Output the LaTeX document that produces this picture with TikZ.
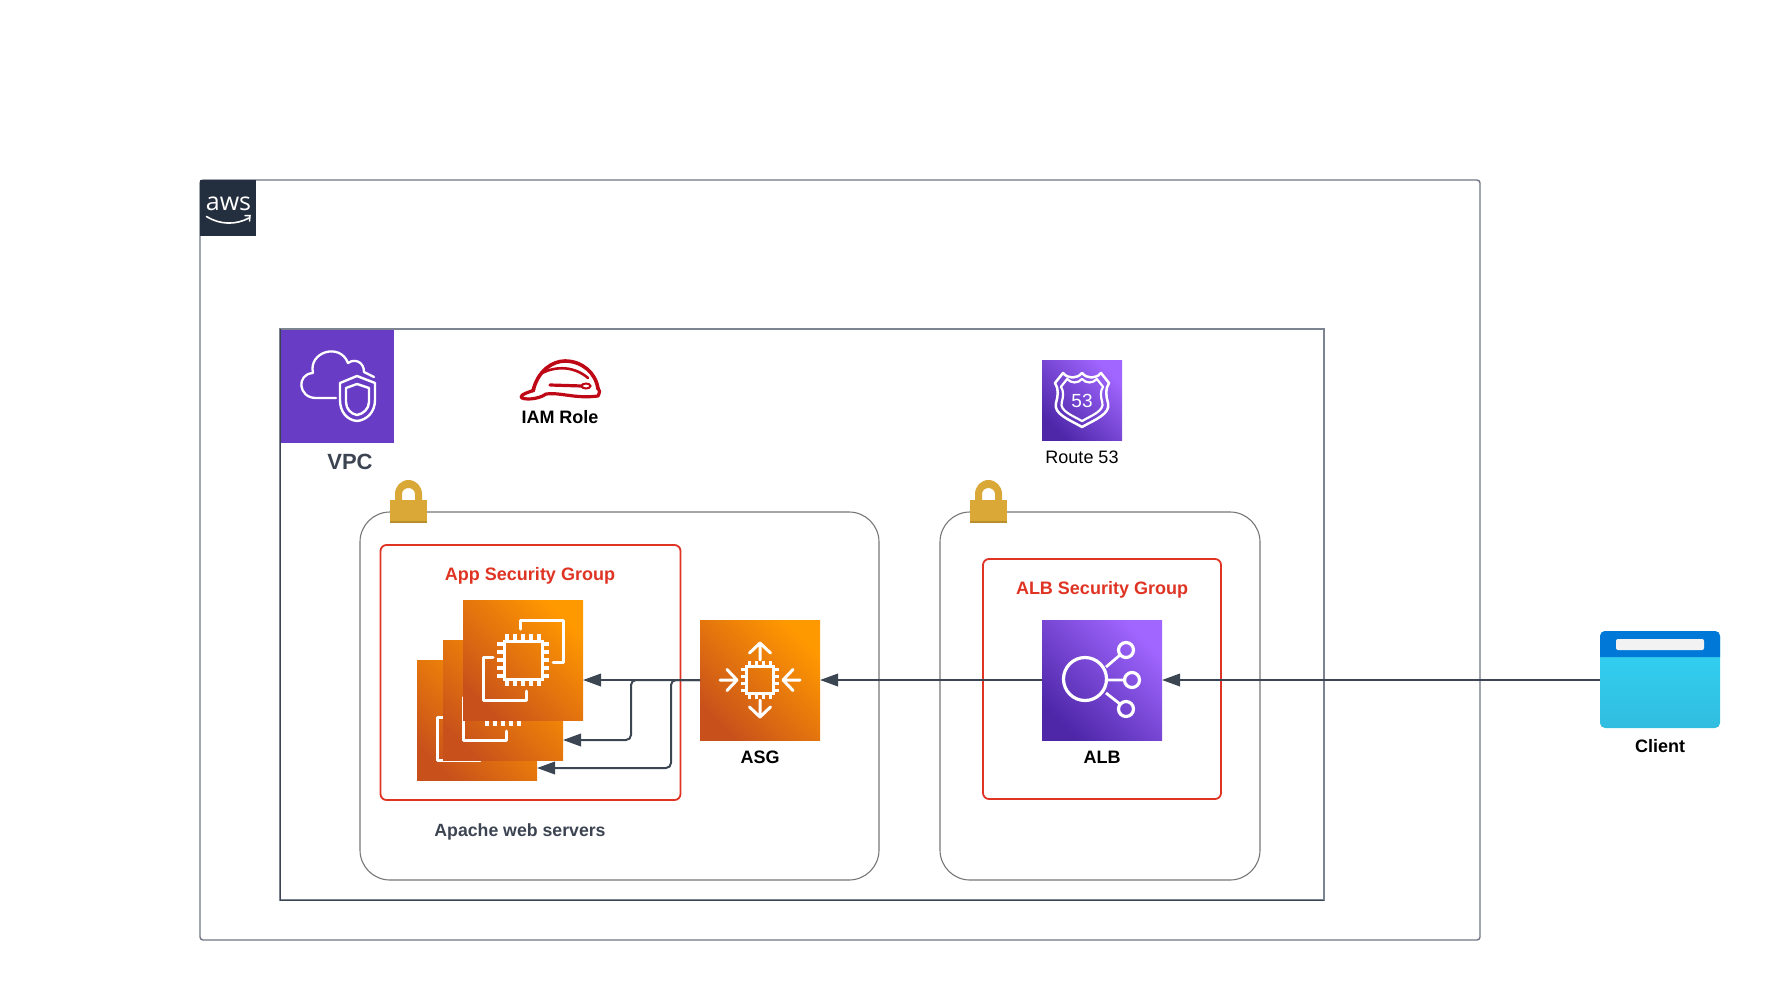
\documentclass[tikz,border=0pt]{standalone}
\usepackage{fontspec}
\setmainfont{Liberation Sans}
\newfontfamily\logofont{Open Sans}
\usetikzlibrary{arrows.meta}
\definecolor{framegrey}{HTML}{6F7785}
\definecolor{vpcgrey}{HTML}{7C8491}
\definecolor{azgrey}{HTML}{777777}
\definecolor{sgred}{HTML}{DF3323}
\definecolor{inkdark}{HTML}{3C4452}
\definecolor{linkink}{HTML}{3C4652}
\definecolor{awsnavy}{HTML}{232F3E}
\definecolor{vpcpurple}{HTML}{693CC5}
\definecolor{orangedark}{HTML}{C8511B}
\definecolor{orangelight}{HTML}{FF9900}
\definecolor{purpledark}{HTML}{4D27A8}
\definecolor{purplelight}{HTML}{A166FF}
\definecolor{lockgold}{HTML}{D9A836}
\definecolor{lockedge}{HTML}{B98F2C}
\definecolor{hatred}{HTML}{BF0816}
\definecolor{clientblue}{HTML}{0078D7}
\definecolor{clienttop}{HTML}{32D4F5}
\definecolor{clientlow}{HTML}{31BDE0}
\definecolor{barwhite}{HTML}{F2F2F2}
\newcommand{\fs}[1]{\fontsize{#1}{#1}\selectfont}
\newcommand{\shieldpath}{(-19,-27) .. controls (-14,-21) and (-5,-21) .. (0,-27) .. controls (5,-21) and (14,-21) .. (19,-27) -- (27,-17) .. controls (23,-11) and (24,-4) .. (26,3) .. controls (29,14) and (12,20) .. (0,27) .. controls (-12,20) and (-29,14) .. (-26,3) .. controls (-24,-4) and (-23,-11) .. (-27,-17) -- cycle}
\tikzset{
  box/.style={inner sep=0pt,outer sep=0pt},
  frame/.style={box,draw=framegrey,line width=1.4pt,rounded corners=3pt},
  vpcframe/.style={box,draw=vpcgrey,line width=1.1pt},
  vpcedge/.style={draw=inkdark,line width=.8pt},
  azbox/.style={box,draw=azgrey,line width=1.1pt,rounded corners=30pt,minimum width=#1,minimum height=368pt},
  sgbox/.style={box,draw=sgred,line width=1.8pt,rounded corners=6pt},
  tile/.style={box,minimum width=120pt,minimum height=120pt},
  orangetile/.style={tile,left color=orangelight,right color=orangedark,shading angle=-45},
  purpletile/.style={tile,left color=purplelight,right color=purpledark,shading angle=-45},
  lbl/.style={inner sep=0pt,font=\bfseries\fs{18}},
  sglbl/.style={lbl,text=sgred},
  link/.style={draw=linkink,line width=2pt,-{Triangle[length=18pt,width=12.5pt]},rounded corners=5pt},
  icon/.style={draw=white,line width=3pt,line cap=round,line join=round},
  pics/chip/.style n args={3}{code={
    \draw[white,line width=3pt] (-#1,-#1) rectangle (#1,#1);
    \foreach \p in {#3}{
      \draw[white,line width=3.5pt] (\p,-#1) -- (\p,-#1-#2);
      \draw[white,line width=3.5pt] (\p,#1) -- (\p,#1+#2);
      \draw[white,line width=3.5pt] (-#1,\p) -- (-#1-#2,\p);
      \draw[white,line width=3.5pt] (#1,\p) -- (#1+#2,\p);
    }
  }},
  pics/ecglyph/.style={code={
    \pic at (0,0) {chip={19}{7}{-16,-8,0,8,16}};
    \draw[icon] (-3,-31) -- (-3,-40) -- (40,-40) -- (40,2) -- (30,2);
    \draw[icon] (-30,-3) -- (-40,-3) -- (-40,40) -- (3,40) -- (3,31);
  }},
  pics/padlock/.style={code={
    \fill[lockgold,even odd rule] (5,20) -- (5,14) arc[start angle=180,end angle=360,x radius=13.5,y radius=14] -- (32,20) -- cycle
      (12,20) -- (12,14) arc[start angle=180,end angle=360,x radius=6.5,y radius=6] -- (25,20) -- cycle;
    \fill[lockgold] (0,20) rectangle (37,41);
    \fill[lockedge] (0,41) rectangle (37,42.5);
  }}
}
\begin{document}
\begin{tikzpicture}[x=1pt,y=-1pt]
\useasboundingbox (0,0) rectangle (1790,980);

% frames
\node[frame,minimum width=1280pt,minimum height=760pt] (awsframe) at (840,560) {};
\node[box,fill=awsnavy,minimum width=56pt,minimum height=56pt] (awslogo) at (228,208) {};
\node[inner sep=0pt,text=white,font=\logofont\fs{25}] (awstext) at (228.5,203.5) {aws};
\draw[white,line width=1.6pt,line cap=round] (206.5,216.5) .. controls (220,225) and (236,225) .. (249,218);
\draw[white,line width=1.5pt,line cap=round] (245,215.5) -- (250,215.5) -- (249.5,221);

\node[vpcframe,minimum width=1044pt,minimum height=571pt] (vpcframe) at (802,614.5) {};
\draw[vpcedge] (vpcframe.north west) -- (vpcframe.south west) -- (vpcframe.south east);
\node[box,fill=vpcpurple,minimum width=113pt,minimum height=113pt] (vpc) at (337.5,386) {};
\draw[white,line width=2.3pt,line cap=round,line join=round]
  (336,398) -- (316,398) .. controls (298,398) and (296,374) .. (313,373)
  .. controls (308,352) and (340,342) .. (348,363)
  .. controls (355,358) and (364,362) .. (364,372) -- (374,377);
\draw[white,line width=2.4pt,line join=round]
  (357,376) -- (340,383) -- (340,400) .. controls (340,412) and (347,420) .. (357,421)
  .. controls (367,420) and (375,412) .. (375,400) -- (375,383) -- cycle;
\draw[white,line width=2.4pt,line join=round]
  (357,384) -- (346,388) -- (346,402) .. controls (346,409) and (351,414) .. (357,415)
  .. controls (363,414) and (369,409) .. (369,402) -- (369,388) -- cycle;
\node[lbl,text=inkdark,font=\bfseries\fs{22}] (vpclabel) at (350,462) {VPC};

% IAM role hat
\draw[hatred,line width=3.6pt,line cap=round,line join=round]
  (533,391) .. controls (538,370) and (553,361) .. (565,361)
  .. controls (582,361) and (596,373) .. (598,389);
\draw[hatred,line width=2.6pt,line cap=round]
  (542,373) .. controls (556,366) and (574,366) .. (588,378);
\draw[hatred,line width=3.2pt,line cap=round,line join=round]
  (534,390) .. controls (530,392) and (521,394) .. (521,397)
  .. controls (522,400) and (538,400) .. (546,394)
  .. controls (560,392) and (575,399) .. (598,396) .. controls (600,392) and (600,390) .. (598,388)
  (550,385) -- (582,386);
\draw[hatred,line width=2pt] (586,386) ellipse[x radius=4.5,y radius=2.5];
\node[lbl] (iamlabel) at (560,417) {IAM Role};

% Route 53
\node[tile,minimum width=80pt,minimum height=80pt,left color=purplelight,right color=purpledark,shading angle=-45] (route) at (1082,400) {};
\begin{scope}[shift={(1082,400)}]
  \draw[white,line width=2.5pt,line join=round] \shieldpath;
  \begin{scope}[scale=.78]
    \draw[white,line width=2.2pt,line join=round] \shieldpath;
  \end{scope}
\end{scope}
\node[inner sep=0pt,text=white,font=\fs{19}] (routefive) at (1082,401) {53};
\node[inner sep=0pt,font=\fs{18}] (routelabel) at (1082,457) {Route 53};

% AZ boxes
\node[azbox=519pt] (azleft) at (619.5,696) {};
\node[azbox=320pt] (azright) at (1100,696) {};
\pic at (390,480) {padlock};
\pic at (970,480) {padlock};

% security groups
\node[sgbox,minimum width=300pt,minimum height=255pt] (sgapp) at (530.5,672.5) {};
\node[sgbox,minimum width=238pt,minimum height=240pt] (sgalb) at (1102,679) {};
\node[sglbl] (sgapplabel) at (530,576) {App Security Group};
\node[sglbl] (sgalblabel) at (1102,590) {ALB Security Group};

% EC2 stack
\node[orangetile] (ecc) at (477,720) {};
\pic at (477,720) {ecglyph};
\node[orangetile] (ecb) at (503,700) {};
\pic at (503,700) {ecglyph};
\node[orangetile] (eca) at (523,660) {};
\pic at (523,660) {ecglyph};
\node[lbl,text=inkdark,font=\bfseries\fs{17.7}] (apache) at (520,832) {Apache web servers};

% ASG
\node[orangetile] (asg) at (760,680) {};
\pic at (760,680) {chip={13.5}{5.5}{-10.5,-3.5,3.5,10.5}};
\draw[icon] (760,660) -- (760,643) (749.5,653) -- (760,643) -- (770.5,653);
\draw[icon] (760,700) -- (760,717) (749.5,707) -- (760,717) -- (770.5,707);
\draw[icon] (720,680) -- (737,680) (727,669.5) -- (737,680) -- (727,690.5);
\draw[icon] (800,680) -- (783,680) (793,669.5) -- (783,680) -- (793,690.5);
\node[lbl] (asglabel) at (760,757) {ASG};

% ALB
\node[purpletile] (alb) at (1102,680) {};
\draw[white,line width=3.2pt] (1085,679) circle[radius=21.5];
\draw[white,line width=3.2pt] (1126,650) circle[radius=7.5];
\draw[white,line width=3.2pt] (1132,680) circle[radius=7.5];
\draw[white,line width=3.2pt] (1126,709) circle[radius=7.5];
\draw[white,line width=2.8pt] (1106,667) -- (1120,655) (1108,680) -- (1124,680) (1106,693) -- (1120,704);
\node[lbl] (alblabel) at (1102,757) {ALB};

% Client
\node[box,minimum width=120pt,minimum height=97pt,rounded corners=5pt,top color=clienttop,bottom color=clientlow,shading angle=0] (client) at (1660,679.5) {};
\fill[clientblue] (1600,657) [rounded corners=5pt] -- (1600,631) -- (1720,631) [sharp corners] -- (1720,657) -- cycle;
\node[box,fill=barwhite,rounded corners=2pt,minimum width=88pt,minimum height=11pt] (clientbar) at (1660,644.5) {};
\node[lbl] (clientlabel) at (1660,746) {Client};

% connectors
\coordinate (ecbport) at (ecb.east |- 0,740);
\coordinate (eccport) at (ecc.east |- 0,768);
\coordinate (busb) at (631,680);
\coordinate (busc) at (671,680);
\draw[link] (client.west |- alb.east) -- (alb.east);
\draw[link] (alb.west) -- (asg.east);
\draw[link] (asg.west) -- (eca.east |- asg.west);
\draw[link] (asg.west) -- (busb) -- (busb |- ecbport) -- (ecbport);
\draw[link] (asg.west) -- (busc) -- (busc |- eccport) -- (eccport);
\end{tikzpicture}
\end{document}
